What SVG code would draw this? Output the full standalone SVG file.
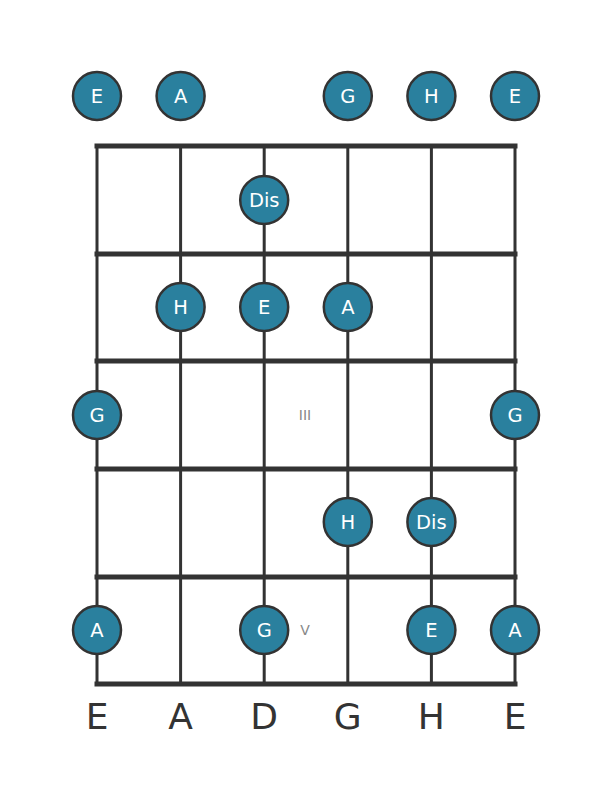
<svg xmlns="http://www.w3.org/2000/svg" width="611" height="801" viewBox="0 0 611 801">
<style>
.fret{stroke:#333;stroke-width:5;stroke-linecap:square}
.str{stroke:#333;stroke-width:3}
.dot circle{fill:#2a809e;stroke:#333;stroke-width:2.5}
.dot text{fill:#fff;font-family:"DejaVu Sans",sans-serif;font-size:19.5px;text-anchor:middle;dominant-baseline:central}
.mark{fill:#888;font-family:"DejaVu Sans",sans-serif;font-size:14px;text-anchor:middle;dominant-baseline:central}
.lbl{fill:#333;font-family:"DejaVu Sans",sans-serif;font-size:36px;text-anchor:middle}
</style>
<rect width="611" height="801" fill="#fff"/>
<g id="connectors">
<line class="str" x1="97" y1="146" x2="97" y2="684"/>
<line class="str" x1="180.6" y1="146" x2="180.6" y2="684"/>
<line class="str" x1="264.2" y1="146" x2="264.2" y2="684"/>
<line class="str" x1="347.8" y1="146" x2="347.8" y2="684"/>
<line class="str" x1="431.4" y1="146" x2="431.4" y2="684"/>
<line class="str" x1="515" y1="146" x2="515" y2="684"/>
<line class="fret" x1="97" y1="146" x2="515" y2="146"/>
<line class="fret" x1="97" y1="254" x2="515" y2="254"/>
<line class="fret" x1="97" y1="361" x2="515" y2="361"/>
<line class="fret" x1="97" y1="469" x2="515" y2="469"/>
<line class="fret" x1="97" y1="577" x2="515" y2="577"/>
<line class="fret" x1="97" y1="684" x2="515" y2="684"/>
</g>
<text class="mark" x="305" y="415">III</text>
<text class="mark" x="305" y="630">V</text>
<g id="open-E1" class="dot"><circle cx="97" cy="96" r="24"/><text x="97" y="96">E</text></g>
<g id="open-A" class="dot"><circle cx="180.6" cy="96" r="24"/><text x="180.6" y="96">A</text></g>
<g id="open-G" class="dot"><circle cx="347.8" cy="96" r="24"/><text x="347.8" y="96">G</text></g>
<g id="open-H" class="dot"><circle cx="431.4" cy="96" r="24"/><text x="431.4" y="96">H</text></g>
<g id="open-E2" class="dot"><circle cx="515" cy="96" r="24"/><text x="515" y="96">E</text></g>
<g id="f1-D" class="dot"><circle cx="264.2" cy="200" r="24"/><text x="264.2" y="200">Dis</text></g>
<g id="f2-A" class="dot"><circle cx="180.6" cy="307" r="24"/><text x="180.6" y="307">H</text></g>
<g id="f2-D" class="dot"><circle cx="264.2" cy="307" r="24"/><text x="264.2" y="307">E</text></g>
<g id="f2-G" class="dot"><circle cx="347.8" cy="307" r="24"/><text x="347.8" y="307">A</text></g>
<g id="f3-E1" class="dot"><circle cx="97" cy="415" r="24"/><text x="97" y="415">G</text></g>
<g id="f3-E2" class="dot"><circle cx="515" cy="415" r="24"/><text x="515" y="415">G</text></g>
<g id="f4-G" class="dot"><circle cx="347.8" cy="522" r="24"/><text x="347.8" y="522">H</text></g>
<g id="f4-H" class="dot"><circle cx="431.4" cy="522" r="24"/><text x="431.4" y="522">Dis</text></g>
<g id="f5-E1" class="dot"><circle cx="97" cy="630" r="24"/><text x="97" y="630">A</text></g>
<g id="f5-D" class="dot"><circle cx="264.2" cy="630" r="24"/><text x="264.2" y="630">G</text></g>
<g id="f5-H" class="dot"><circle cx="431.4" cy="630" r="24"/><text x="431.4" y="630">E</text></g>
<g id="f5-E2" class="dot"><circle cx="515" cy="630" r="24"/><text x="515" y="630">A</text></g>
<g id="labels">
<text class="lbl" x="97" y="729">E</text>
<text class="lbl" x="180.6" y="729">A</text>
<text class="lbl" x="264.2" y="729">D</text>
<text class="lbl" x="347.8" y="729">G</text>
<text class="lbl" x="431.4" y="729">H</text>
<text class="lbl" x="515" y="729">E</text>
</g>
</svg>
